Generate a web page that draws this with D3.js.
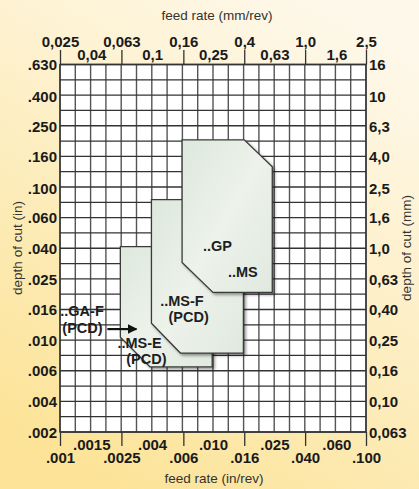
<!DOCTYPE html>
<html><head><meta charset="utf-8">
<script src="https://cdnjs.cloudflare.com/ajax/libs/d3/7.8.5/d3.min.js"></script>
<style>html,body{margin:0;padding:0;background:#fdf1cc;}svg{display:block;}</style>
</head><body>
<svg id="chart" width="419" height="489"></svg>
<script>
// ---- data (mm values; inch labels are the companion scale) ----
const feedMm = [0.025,0.04,0.063,0.1,0.16,0.25,0.4,0.63,1.0,1.6,2.5];
const feedMmLabels = ["0,025","0,04","0,063","0,1","0,16","0,25","0,4","0,63","1,0","1,6","2,5"];
const feedInLabels = [".001",".0015",".0025",".004",".006",".010",".016",".025",".040",".060",".100"];
const depthMm = [0.063,0.10,0.16,0.25,0.40,0.63,1.0,1.6,2.5,4.0,6.3,10,16];
const depthMmLabels = ["0,063","0,10","0,16","0,25","0,40","0,63","1,0","1,6","2,5","4,0","6,3","10","16"];
const depthInLabels = [".002",".004",".006",".010",".016",".025",".040",".060",".100",".160",".250",".400",".630"];

// application zones: [feed mm/rev, depth mm]
const zoneMSE = [[0.062,1.03],[0.247,1.03],[0.247,0.168],[0.097,0.168],[0.062,0.263]];
const zoneMSF = [[0.099,2.09],[0.395,2.09],[0.395,0.207],[0.153,0.207],[0.099,0.324]];
const zoneGP  = [[0.157,5.14],[0.40,5.14],[0.61,3.43],[0.61,0.516],[0.25,0.516],[0.157,0.81]];
const zones = [zoneMSE, zoneMSF, zoneGP];

// zone labels: [text, feed mm, depth mm]
const zoneLabels = [
  ["..GP", 0.215, 0.97],
  ["..MS", 0.313, 0.65],
  ["..MS-F", 0.113, 0.419],
  ["(PCD)", 0.128, 0.33],
  ["..MS-E", 0.0593, 0.222],
  ["(PCD)", 0.0678, 0.176],
  ["..GA-F", 0.0251, 0.36],
  ["(PCD)", 0.0259, 0.281]
];
const arrowGAF = [[0.051,0.297],[0.079,0.297]];

// ---- layout ----
const W = 419, H = 489;
const L = 60, R = 366, T = 64.5, B = 432;
const svg = d3.select("#chart");
const defs = svg.append("defs");

const bg = defs.append("linearGradient").attr("id","bg")
  .attr("x1","0.75").attr("y1","0").attr("x2","0.25").attr("y2","1");
bg.append("stop").attr("offset","0").attr("stop-color","#fef8ea");
bg.append("stop").attr("offset","0.45").attr("stop-color","#fdefc6");
bg.append("stop").attr("offset","1").attr("stop-color","#fce397");

const zf = defs.append("linearGradient").attr("id","zf")
  .attr("x1","0").attr("y1","0").attr("x2","1").attr("y2","1");
zf.append("stop").attr("offset","0").attr("stop-color","#dde8dc");
zf.append("stop").attr("offset","0.5").attr("stop-color","#edf2eb");
zf.append("stop").attr("offset","1").attr("stop-color","#e0e9df");

const sh = defs.append("filter").attr("id","sh").attr("x","-10%").attr("y","-10%").attr("width","130%").attr("height","130%");
sh.append("feDropShadow").attr("dx",2).attr("dy",2).attr("stdDeviation",1.5)
  .attr("flood-color","#000").attr("flood-opacity",0.4);

defs.append("marker").attr("id","arr").attr("viewBox","0 0 10 10")
  .attr("refX",9).attr("refY",5).attr("markerWidth",4.5).attr("markerHeight",4.5)
  .attr("orient","auto").attr("markerUnits","strokeWidth")
  .append("path").attr("d","M0,0L10,5L0,10Z").attr("fill","#111");

svg.append("rect").attr("width",W).attr("height",H).attr("fill","url(#bg)");

const x = d3.scaleLog().domain([0.025,2.5]).range([L,R]);
const y = d3.scaleLog().domain([0.063,16]).range([B,T]);

// plot background
svg.append("rect").attr("x",L).attr("y",T).attr("width",R-L).attr("height",B-T).attr("fill","#fff");

// grid (0.1-decade steps)
const lx0 = Math.log10(0.025), ly0 = Math.log10(0.063), ly1 = Math.log10(16);
const gx = d3.range(0,21).map(k => Math.pow(10, lx0 + k*0.1));
const gy = d3.range(0,25).map(k => Math.pow(10, ly0 + k*(ly1-ly0)/24));
const grid = svg.append("g");
grid.selectAll(".v").data(gx).join("line")
  .attr("x1",d=>x(d)).attr("x2",d=>x(d)).attr("y1",T).attr("y2",B)
  .attr("stroke","#555").attr("stroke-width",1.4);
grid.selectAll(".h").data(gy).join("line")
  .attr("y1",d=>y(d)).attr("y2",d=>y(d)).attr("x1",L).attr("x2",R)
  .attr("stroke","#333").attr("stroke-width",1.3);
svg.append("rect").attr("x",L).attr("y",T).attr("width",R-L).attr("height",B-T)
  .attr("fill","none").attr("stroke","#333").attr("stroke-width",1.4);

// axes
const font = "'Liberation Sans', Arial, Helvetica, sans-serif";
const idx = (arr,d) => arr.indexOf(d);
const majorF = feedMm.filter((d,i)=>i%2===0);
const minorF = feedMm.filter((d,i)=>i%2===1);

function style(g){
  g.select(".domain").remove();
  g.selectAll("line").attr("stroke","#333").attr("stroke-width",1.3);
  g.selectAll("text").attr("font-family",font).attr("font-weight","bold")
    .attr("font-size",15).attr("fill","#1a1a1a");
}
// top
svg.append("g").attr("transform",`translate(0,${T})`)
  .call(d3.axisTop(x).tickValues(majorF).tickSize(14.5).tickFormat(d=>feedMmLabels[idx(feedMm,d)]))
  .call(style).call(g=>g.selectAll("text").attr("y",-18).attr("dy",null));
svg.append("g").attr("transform",`translate(0,${T})`)
  .call(d3.axisTop(x).tickValues(minorF).tickSize(0).tickFormat(d=>feedMmLabels[idx(feedMm,d)]))
  .call(style).call(g=>g.selectAll("text").attr("y",-4.5).attr("dy",null));
// bottom
svg.append("g").attr("transform",`translate(0,${B})`)
  .call(d3.axisBottom(x).tickValues(majorF).tickSize(14).tickFormat(d=>feedInLabels[idx(feedMm,d)]))
  .call(style).call(g=>g.selectAll("text").attr("y",31).attr("dy",null));
svg.append("g").attr("transform",`translate(0,${B})`)
  .call(d3.axisBottom(x).tickValues(minorF).tickSize(0).tickFormat(d=>feedInLabels[idx(feedMm,d)]))
  .call(style).call(g=>g.selectAll("text").attr("y",18).attr("dy",null));
// left / right
svg.append("g").attr("transform",`translate(${L},0)`)
  .call(d3.axisLeft(y).tickValues(depthMm).tickSize(0).tickPadding(3).tickFormat(d=>depthInLabels[idx(depthMm,d)]))
  .call(style).call(g=>g.selectAll("text").attr("dy","0.36em"));
svg.append("g").attr("transform",`translate(${R},0)`)
  .call(d3.axisRight(y).tickValues(depthMm).tickSize(0).tickPadding(3).tickFormat(d=>depthMmLabels[idx(depthMm,d)]))
  .call(style).call(g=>g.selectAll("text").attr("dy","0.36em"));

// axis titles
const tfont = {"font-family":font,"font-size":13.5,"fill":"#333"};
function title(t, tx, ty, rot){
  const e = svg.append("text").text(t).attr("text-anchor","middle")
    .attr("transform",`translate(${tx},${ty}) rotate(${rot})`);
  Object.entries(tfont).forEach(([k,v])=>e.attr(k,v));
}
title("feed rate (mm/rev)", 217, 20, 0);
title("feed rate (in/rev)", 214, 483, 0);
title("depth of cut (in)", 22, 248, -90);
title("depth of cut (mm)", 411, 248, -90);

// zones
const line = d3.line().x(d=>x(d[0])).y(d=>y(d[1]));
svg.append("g").selectAll("path").data(zones).join("path")
  .attr("d",d=>line(d)+"Z").attr("fill","url(#zf)")
  .attr("stroke","#3a3a3a").attr("stroke-width",1.3).attr("filter","url(#sh)");

// zone labels
svg.append("g").selectAll("text").data(zoneLabels).join("text")
  .attr("x",d=>x(d[1])).attr("y",d=>y(d[2])).text(d=>d[0])
  .attr("font-family",font).attr("font-weight","bold").attr("font-size",14.5).attr("fill","#1e1e1e");

// arrow
svg.append("path").attr("d",line(arrowGAF)).attr("stroke","#111").attr("stroke-width",2.2)
  .attr("fill","none").attr("marker-end","url(#arr)");
</script>
</body></html>
